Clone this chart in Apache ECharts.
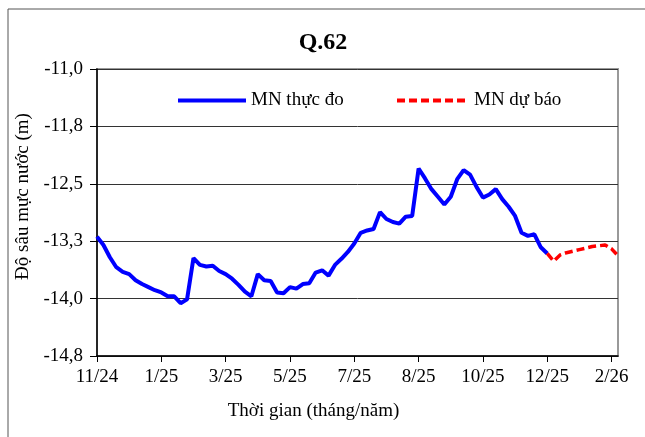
<!DOCTYPE html>
<html>
<head>
<meta charset="utf-8">
<title>Q.62</title>
<script src="https://cdn.jsdelivr.net/npm/echarts@6/dist/echarts.min.js"></script>
<style>
  html, body { margin: 0; padding: 0; background: #fff; }
  #chart { width: 645px; height: 437px; }
</style>
</head>
<body>
<div id="chart"></div>
<script>
// tick labels on the x axis, one every 10 steps
const tickLabels = ['11/24', '1/25', '3/25', '5/25', '7/25', '8/25', '10/25', '12/25', '2/26']
const stepsPerTick = 10

// water depth (m)
const measured = [
  -13.19, -13.30, -13.46, -13.59, -13.65, -13.68, -13.76, -13.81, -13.85, -13.89,
  -13.92, -13.97, -13.97, -14.06, -14.01, -13.47, -13.56, -13.58, -13.57, -13.64,
  -13.68, -13.74, -13.82, -13.91, -13.97, -13.68, -13.76, -13.77, -13.92, -13.93,
  -13.85, -13.87, -13.81, -13.80, -13.66, -13.63, -13.70, -13.56, -13.48, -13.39,
  -13.28, -13.14, -13.11, -13.09, -12.87, -12.96, -13.00, -13.02, -12.93, -12.92,
  -12.30, -12.43, -12.57, -12.67, -12.77, -12.67, -12.44, -12.32, -12.38, -12.54,
  -12.68, -12.64, -12.57, -12.70, -12.80, -12.92, -13.14, -13.18, -13.16, -13.33,
  -13.41
]
const forecast = [
  -13.41, -13.51, -13.43, -13.40, -13.38, -13.36, -13.34, -13.32, -13.31,
  -13.30, -13.35, -13.44
]
const forecastStart = measured.length - 1

const total = forecastStart + forecast.length
const categories = []
for (let i = 0; i < total; i += 1) {
  categories.push(i % stepsPerTick === 0 ? (tickLabels[i / stepsPerTick] || '') : '')
}
const measuredData = categories.map((c, i) => (i < measured.length ? measured[i] : null))
const forecastData = categories.map((c, i) => (i >= forecastStart ? forecast[i - forecastStart] : null))

const font = 'Liberation Serif, Times New Roman, serif'

const chart = echarts.init(document.getElementById('chart'))

chart.setOption({
  animation: false,
  title: {
    text: 'Q.62',
    left: 318,
    textAlign: 'center',
    top: 26,
    textStyle: { fontFamily: font, fontSize: 24, fontWeight: 'bold', color: '#000' }
  },
  legend: [{
    data: ['MN thực đo'],
    left: 171,
    top: 86,
    itemWidth: 68,
    itemHeight: 16,
    itemStyle: { opacity: 0 },
    lineStyle: { width: 4 },
    textStyle: { fontFamily: font, fontSize: 19, color: '#000' }
  }, {
    data: ['MN dự báo'],
    left: 390,
    top: 86,
    itemWidth: 72,
    itemHeight: 16,
    itemStyle: { opacity: 0 },
    lineStyle: { width: 4, type: [8, 4] },
    textStyle: { fontFamily: font, fontSize: 19, color: '#000' }
  }],
  grid: {
    left: 97,
    right: 27,
    top: 69,
    bottom: 81,
    show: true,
    borderColor: '#999',
    borderWidth: 2
  },
  xAxis: {
    type: 'category',
    data: categories,
    boundaryGap: false,
    name: 'Thời gian (tháng/năm)',
    nameLocation: 'middle',
    nameGap: 46,
    nameTextStyle: { fontFamily: font, fontSize: 19, color: '#000', padding: [0, 88, 0, 0] },
    axisLine: { lineStyle: { color: '#000', width: 1.5 } },
    axisTick: { interval: stepsPerTick - 1, length: 6, lineStyle: { color: '#000' } },
    axisLabel: { interval: stepsPerTick - 1, margin: 12, fontFamily: font, fontSize: 19, color: '#000' },
    splitLine: { show: false }
  },
  yAxis: {
    type: 'value',
    min: -14.75,
    max: -11,
    interval: 0.75,
    name: 'Độ sâu mực nước (m)',
    nameLocation: 'middle',
    nameGap: 58,
    nameTextStyle: { fontFamily: font, fontSize: 19, color: '#000', padding: [0, 0, 0, 32] },
    axisLine: { show: true, lineStyle: { color: '#000', width: 1.5 } },
    axisTick: { show: true, length: 7, lineStyle: { color: '#000' } },
    axisLabel: {
      margin: 14,
      fontFamily: font,
      fontSize: 19,
      color: '#000',
      formatter: v => v.toFixed(1).replace('.', ',')
    },
    splitLine: { lineStyle: { color: '#333', width: 1 } }
  },
  graphic: [{
    type: 'rect',
    shape: { x: 8, y: 9, width: 700, height: 500 },
    style: { fill: 'none', stroke: '#555', lineWidth: 1 },
    silent: true
  }],
  series: [{
    name: 'MN thực đo',
    type: 'line',
    data: measuredData,
    symbol: 'none',
    lineStyle: { color: '#0000ff', width: 4 },
    itemStyle: { color: '#0000ff' },
    z: 3
  }, {
    name: 'MN dự báo',
    type: 'line',
    data: forecastData,
    symbol: 'none',
    lineStyle: { color: '#ff0000', width: 3.5, type: [8, 4] },
    itemStyle: { color: '#ff0000' },
    z: 4
  }]
})
</script>
</body>
</html>
